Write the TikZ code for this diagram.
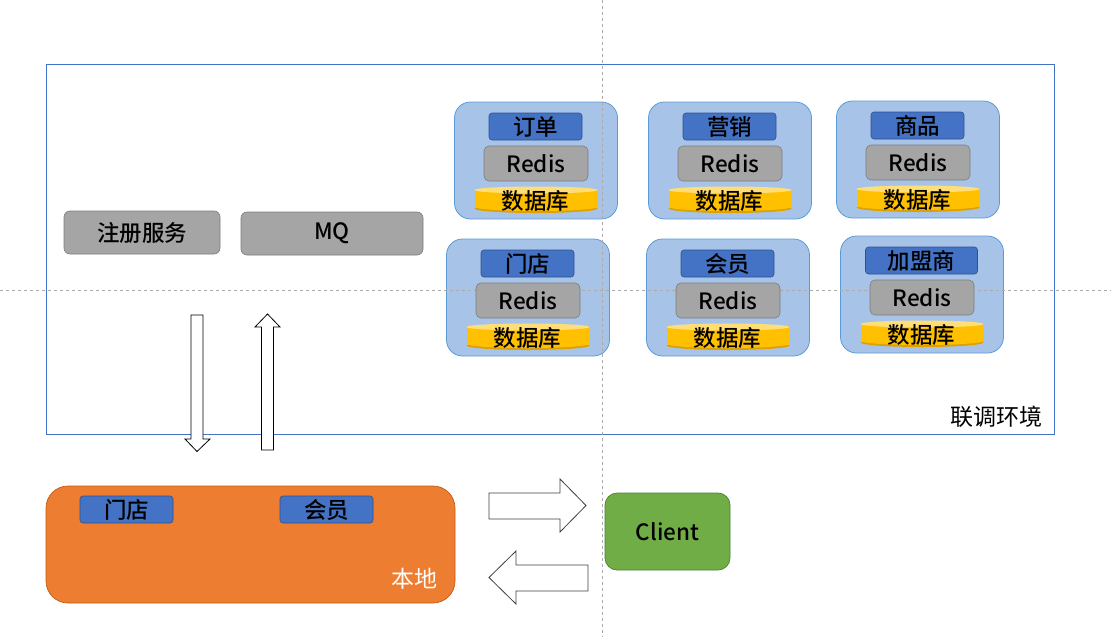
\documentclass[tikz,border=0pt]{standalone}
\usepackage{fontspec}
\setmainfont{Noto Sans CJK SC}[BoldFont={Noto Sans CJK SC Medium}]
\usepackage{tikz}
\definecolor{envblue}{RGB}{68,114,196}
\definecolor{titleblue}{RGB}{68,114,196}
\definecolor{titleline}{RGB}{47,82,143}
\definecolor{clusterblue}{RGB}{167,196,232}
\definecolor{clusterline}{RGB}{91,155,213}
\definecolor{boxgray}{RGB}{165,165,165}
\definecolor{grayline}{RGB}{124,124,124}
\definecolor{dbyellow}{RGB}{255,192,0}
\definecolor{dbtop}{RGB}{255,222,120}
\definecolor{dbedge}{RGB}{222,160,0}
\definecolor{localorange}{RGB}{237,125,49}
\definecolor{localline}{RGB}{197,90,17}
\definecolor{clientgreen}{RGB}{112,173,71}
\definecolor{clientline}{RGB}{80,126,50}
\definecolor{guidegray}{RGB}{170,170,170}
\newcommand{\labelsize}{\fontsize{23}{27}\selectfont}
\newcommand{\boxfont}{\fontsize{22.5}{26}\selectfont\bfseries}

\tikzset{
  svcbox/.style={draw=clusterline, fill=clusterblue, line width=0.8pt, rounded corners=16pt,
    minimum width=163pt, minimum height=117pt, inner sep=0pt},
  titlebox/.style={draw=titleline, fill=titleblue, line width=0.6pt, rounded corners=3pt,
    minimum height=27pt, inner sep=0pt, font=\boxfont},
  redisbox/.style={draw=grayline, fill=boxgray, line width=0.6pt, rounded corners=5pt,
    minimum width=104pt, minimum height=35pt, inner sep=0pt, font=\boxfont},
  dbtext/.style={minimum width=123pt, minimum height=27pt, inner sep=0pt, font=\boxfont},
  svcgray/.style={draw=grayline, fill=boxgray, line width=0.6pt, rounded corners=6pt,
    minimum height=43pt, inner sep=0pt, font=\boxfont},
  blockarrow/.style={draw=black, fill=white, line width=0.8pt},
  guide/.style={draw=guidegray, line width=0.6pt, dash pattern=on 3pt off 3pt}
}

\begin{document}
\begin{tikzpicture}[x=1pt, y=-1pt]
\useasboundingbox (0,0) rectangle (1111,637);
% Environment frame
\node[draw=envblue, line width=0.7pt, minimum width=1008pt, minimum height=370pt, inner sep=0pt] (env) at (550,249) {};
\node[anchor=base east, inner sep=0pt, font=\labelsize] (envlabel) at (1043,425) {联调环境};
% Service clusters (background)
\foreach \cx/\cy/\id in {536/102/order, 730/102/promo, 918/101/goods, 528/239/store, 728/239/member, 922/236/franchise} {
  \begin{scope}[shift={(\cx,\cy)}]
    \node[svcbox] (\id) at (0,58.5) {};
  \end{scope}
}
% Guide lines
\draw[guide] (602,0) -- (602,637);
\draw[guide] (0,290) -- (1111,290);
% Service clusters (content)
\foreach \cx/\cy/\id/\lbl/\tw in {536/102/order/订单/93, 730/102/promo/营销/93, 918/101/goods/商品/93, 528/239/store/门店/93, 728/239/member/会员/93, 922/236/franchise/加盟商/112} {
  \begin{scope}[shift={(\cx,\cy)}]
    \node[titlebox, minimum width=\tw pt] (\id-title) at (-0.5,24.5) {\lbl};
    \node[redisbox] (\id-redis) at (0,61.5) {Redis};
    % Database cylinder
    \fill[dbedge] (0,106.5) ellipse [x radius=61.5, y radius=4.5];
    \fill[dbyellow] (-61.5,88) rectangle (61.5,106);
    \fill[dbyellow] (0,105) ellipse [x radius=61, y radius=4];
    \fill[dbtop] (0,88) ellipse [x radius=61.5, y radius=3.5];
    \node[dbtext] (\id-db) at (-0.5,99) {数据库};
  \end{scope}
}
% Registry and MQ
\node[svcgray, minimum width=156pt] (registry) at (142,232.5) {注册服务};
\node[svcgray, minimum width=182pt] (mq) at (332,233.5) {MQ};
% Vertical arrows
\draw[blockarrow] (191,315) -- (203,315) -- (203,439) -- (210,439) -- (197,451.5) -- (185,439) -- (191,439) -- cycle;
\draw[blockarrow] (261.5,450) -- (273.5,450) -- (273.5,327) -- (280,327) -- (267.5,314) -- (255,327) -- (261.5,327) -- cycle;
% Local box
\node[draw=localline, fill=localorange, line width=0.7pt, rounded corners=22pt, minimum width=409pt, minimum height=117pt, inner sep=0pt] (local) at (250.5,544.5) {};
\node[titlebox, minimum width=93pt] (local-store) at (126.5,509.5) {门店};
\node[titlebox, minimum width=93pt] (local-member) at (326.5,509.5) {会员};
\node[anchor=base east, inner sep=0pt, text=white, font=\labelsize] (locallabel) at (438,587) {本地};
% Horizontal arrows
\draw[blockarrow, draw=black!75] (489,493) -- (560,493) -- (560,479) -- (586,505.5) -- (560,532) -- (560,519) -- (489,519) -- cycle;
\draw[blockarrow, draw=black!75] (588,565) -- (516,565) -- (516,551) -- (489,577.5) -- (516,604) -- (516,591) -- (588,591) -- cycle;
% Client
\node[draw=clientline, fill=clientgreen, line width=0.7pt, rounded corners=12pt, minimum width=125pt, minimum height=77pt, inner sep=0pt, font=\boxfont] (client) at (667.5,531.5) {Client};
\end{tikzpicture}
\end{document}
